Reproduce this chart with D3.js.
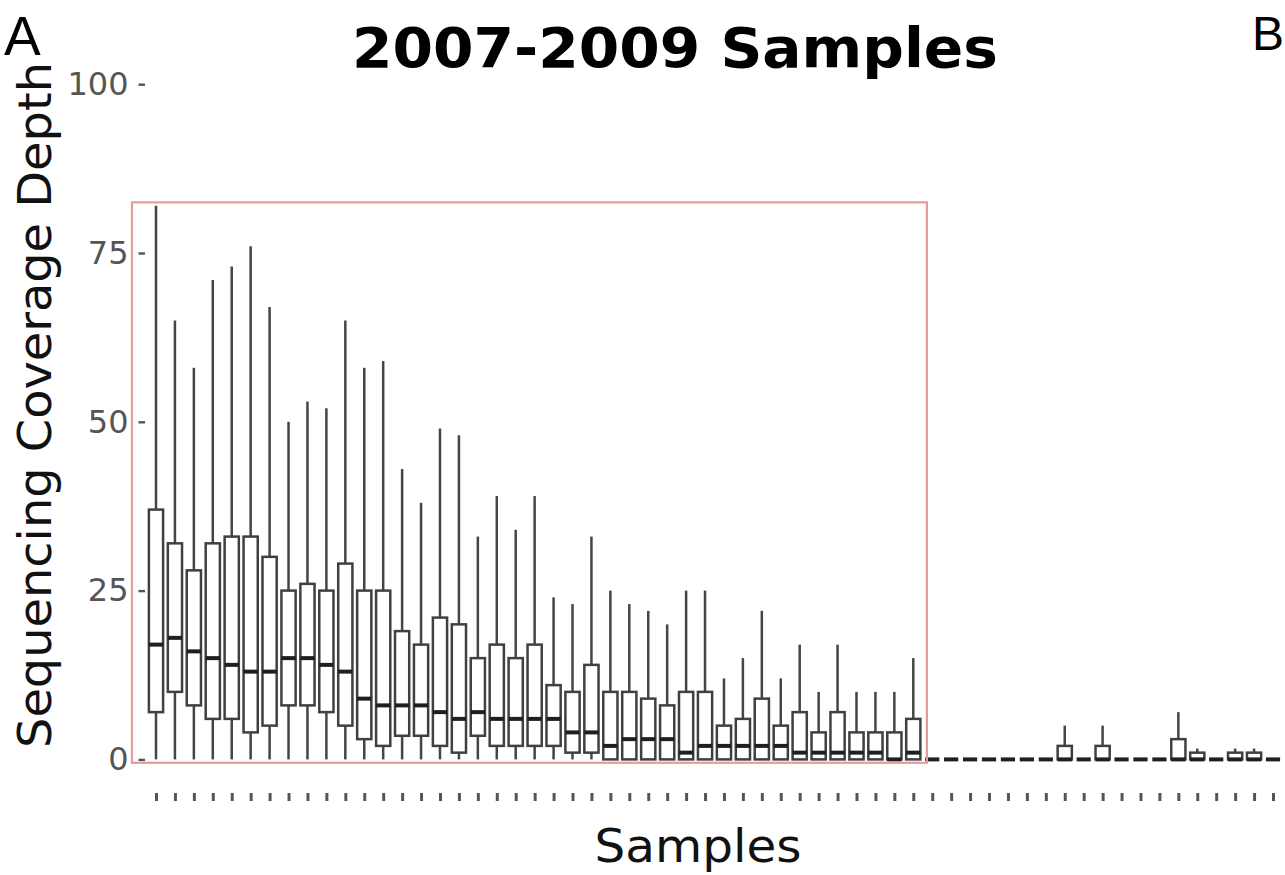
<!DOCTYPE html>
<html>
<head>
<meta charset="utf-8">
<script src="https://cdn.jsdelivr.net/npm/d3@7"></script>
<style>
  html, body { margin: 0; padding: 0; background: #ffffff; }
  svg { display: block; }
</style>
</head>
<body>
<svg id="chart" width="1285" height="875"></svg>
<script>
// Per-sample coverage-depth summaries (box plot statistics)
const samples = [
  "S01","S02","S03","S04","S05","S06","S07","S08","S09","S10",
  "S11","S12","S13","S14","S15","S16","S17","S18","S19","S20",
  "S21","S22","S23","S24","S25","S26","S27","S28","S29","S30",
  "S31","S32","S33","S34","S35","S36","S37","S38","S39","S40",
  "S41","S42","S43","S44","S45","S46","S47","S48","S49","S50",
  "S51","S52","S53","S54","S55","S56","S57","S58","S59","S60"
];
const whiskerHigh = [
  82, 65, 58, 71, 73, 76, 67, 50, 53, 52,
  65, 58, 59, 43, 38, 49, 48, 33, 39, 34,
  39, 24, 23, 33, 25, 23, 22, 20, 25, 25,
  12, 15, 22, 12, 17, 10, 17, 10, 10, 10,
  15, 0, 0, 0, 0, 0, 0, 0, 5, 0,
  5, 0, 0, 0, 7, 1.6, 0, 1.6, 1.6, 0
];
const upperQuartile = [
  37, 32, 28, 32, 33, 33, 30, 25, 26, 25,
  29, 25, 25, 19, 17, 21, 20, 15, 17, 15,
  17, 11, 10, 14, 10, 10, 9, 8, 10, 10,
  5, 6, 9, 5, 7, 4, 7, 4, 4, 4,
  6, 0, 0, 0, 0, 0, 0, 0, 2, 0,
  2, 0, 0, 0, 3, 1, 0, 1, 1, 0
];
const median = [
  17, 18, 16, 15, 14, 13, 13, 15, 15, 14,
  13, 9, 8, 8, 8, 7, 6, 7, 6, 6,
  6, 6, 4, 4, 2, 3, 3, 3, 1, 2,
  2, 2, 2, 2, 1, 1, 1, 1, 1, 0,
  1, 0, 0, 0, 0, 0, 0, 0, 0, 0,
  0, 0, 0, 0, 0, 0, 0, 0, 0, 0
];
const lowerQuartile = [
  7, 10, 8, 6, 6, 4, 5, 8, 8, 7,
  5, 3, 2, 3.5, 3.5, 2, 1, 3.5, 2, 2,
  2, 2, 1, 1, 0, 0, 0, 0, 0, 0,
  0, 0, 0, 0, 0, 0, 0, 0, 0, 0,
  0, 0, 0, 0, 0, 0, 0, 0, 0, 0,
  0, 0, 0, 0, 0, 0, 0, 0, 0, 0
];
const whiskerLow = [
  0, 0, 0, 0, 0, 0, 0, 0, 0, 0,
  0, 0, 0, 0, 0, 0, 0, 0, 0, 0,
  0, 0, 0, 0, 0, 0, 0, 0, 0, 0,
  0, 0, 0, 0, 0, 0, 0, 0, 0, 0,
  0, 0, 0, 0, 0, 0, 0, 0, 0, 0,
  0, 0, 0, 0, 0, 0, 0, 0, 0, 0
];
const yTicks = [0, 25, 50, 75, 100];

// Samples enclosed by the highlight frame and its value span
const highlightSamples = ["S01", "S41"];
const highlightValues = [-0.5, 82.5];

const titleText = "2007-2009 Samples";
const xTitle = "Samples";
const yTitle = "Sequencing Coverage Depth";

const rows = samples.map((s, i) => ({
  sample: s,
  hi: whiskerHigh[i],
  q3: upperQuartile[i],
  med: median[i],
  q1: lowerQuartile[i],
  lo: whiskerLow[i]
}));

const svg = d3.select("#chart");
const FONT = "'DejaVu Sans', Verdana, sans-serif";

const x = d3.scalePoint().domain(samples).range([156, 1273]).padding(0);
const step = x.step();
const boxW = step * 0.75;
const y = d3.scaleLinear().domain([0, 100]).range([759.4, 84.2]);

// Y axis: ticks and grey labels, no axis line
const yAxis = d3.axisLeft(y).tickValues(yTicks).tickSize(6.5).tickPadding(10);
const yAxisG = svg.append("g").attr("transform", "translate(145,0)").call(yAxis);
yAxisG.select(".domain").remove();
yAxisG.selectAll(".tick line").attr("stroke", "#555").attr("stroke-width", 2.4);
yAxisG.selectAll(".tick text")
  .attr("fill", "#555555")
  .style("font-family", FONT)
  .style("font-size", "32px");

// X axis: unlabeled tick marks below the panel
const xAxis = d3.axisBottom(x).tickSize(8).tickFormat("");
const xAxisG = svg.append("g").attr("transform", "translate(0,793)").call(xAxis);
xAxisG.select(".domain").remove();
xAxisG.selectAll(".tick line").attr("stroke", "#555").attr("stroke-width", 3);

// Box plots
const boxes = svg.append("g").selectAll("g.box").data(rows).join("g").attr("class", "box");

boxes.filter(d => d.hi > d.q3).append("line")
  .attr("x1", d => x(d.sample)).attr("x2", d => x(d.sample))
  .attr("y1", d => y(d.q3)).attr("y2", d => y(d.hi))
  .attr("stroke", "#454545").attr("stroke-width", 2.5);

boxes.filter(d => d.q1 > d.lo).append("line")
  .attr("x1", d => x(d.sample)).attr("x2", d => x(d.sample))
  .attr("y1", d => y(d.q1)).attr("y2", d => y(d.lo))
  .attr("stroke", "#454545").attr("stroke-width", 2.5);

boxes.append("rect")
  .attr("x", d => x(d.sample) - boxW / 2)
  .attr("width", boxW)
  .attr("y", d => y(d.q3))
  .attr("height", d => y(d.q1) - y(d.q3))
  .attr("fill", "#ffffff")
  .attr("stroke", "#404040")
  .attr("stroke-width", 2.5);

boxes.append("line")
  .attr("x1", d => x(d.sample) - boxW / 2)
  .attr("x2", d => x(d.sample) + boxW / 2)
  .attr("y1", d => y(d.med)).attr("y2", d => y(d.med))
  .attr("stroke", "#1f1f1f").attr("stroke-width", 4);

// Highlight frame around the high-coverage samples
const hx0 = x(highlightSamples[0]) - step * 1.27;
const hx1 = x(highlightSamples[1]) + step * 0.72;
svg.append("rect")
  .attr("x", hx0)
  .attr("y", y(highlightValues[1]))
  .attr("width", hx1 - hx0)
  .attr("height", y(highlightValues[0]) - y(highlightValues[1]))
  .attr("fill", "none")
  .attr("stroke", "#e79a9a")
  .attr("stroke-width", 2.2);

// Titles
svg.append("text")
  .attr("x", 675).attr("y", 67)
  .attr("text-anchor", "middle")
  .attr("textLength", 646).attr("lengthAdjust", "spacingAndGlyphs")
  .style("font-family", FONT).style("font-weight", "bold").style("font-size", "55px")
  .attr("fill", "#000")
  .text(titleText);

svg.append("text")
  .attr("x", 698).attr("y", 862)
  .attr("text-anchor", "middle")
  .attr("textLength", 207).attr("lengthAdjust", "spacingAndGlyphs")
  .style("font-family", FONT).style("font-size", "46px")
  .attr("fill", "#111")
  .text(xTitle);

svg.append("text")
  .attr("transform", "translate(51,405) rotate(-90)")
  .attr("text-anchor", "middle")
  .attr("textLength", 686).attr("lengthAdjust", "spacingAndGlyphs")
  .style("font-family", FONT).style("font-size", "46px")
  .attr("fill", "#111")
  .text(yTitle);

// Panel letters
svg.append("text")
  .attr("x", 4).attr("y", 55)
  .style("font-family", "'Liberation Sans', Arial, sans-serif").style("font-size", "55px")
  .attr("fill", "#000")
  .text("A");

svg.append("text")
  .attr("x", 1252).attr("y", 50)
  .style("font-family", "'Liberation Sans', Arial, sans-serif").style("font-size", "48px")
  .attr("fill", "#000")
  .text("B");
</script>
</body>
</html>
